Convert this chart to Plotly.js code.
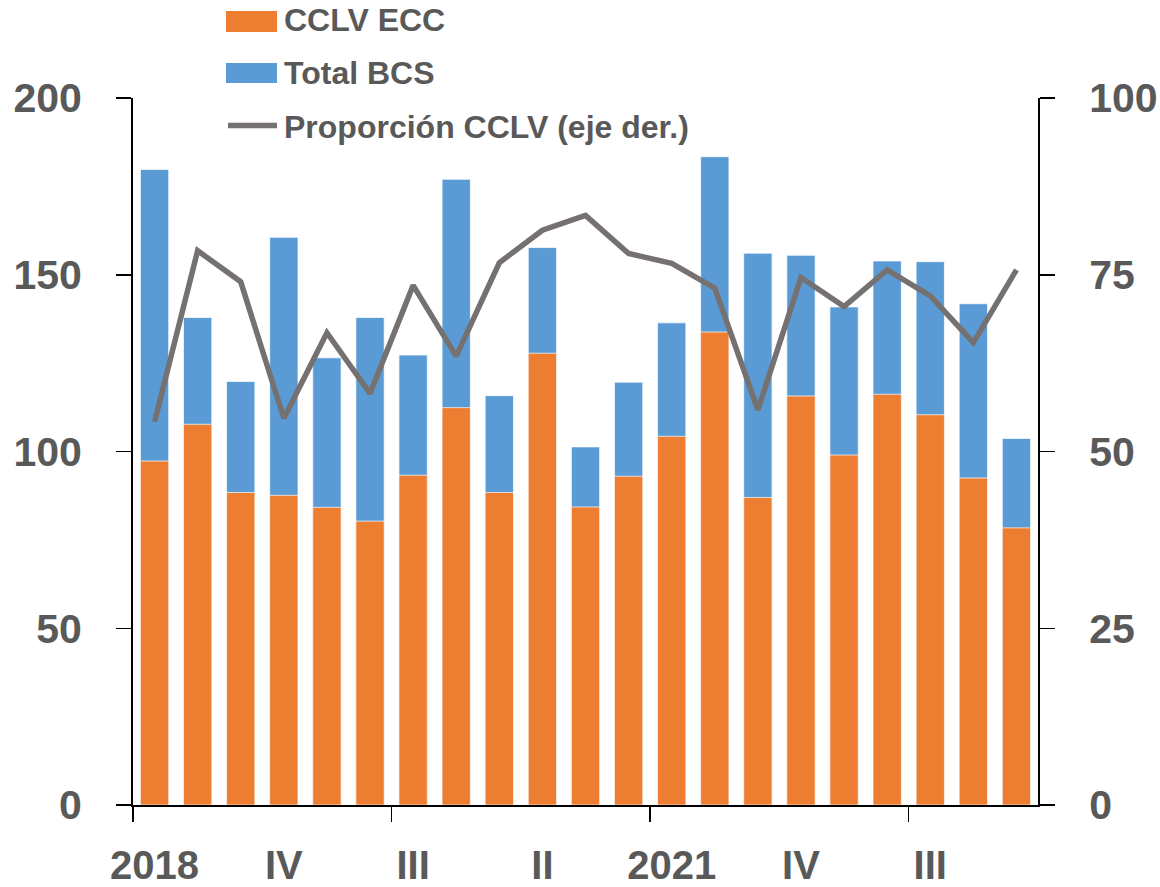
<!DOCTYPE html>
<html>
<head>
<meta charset="utf-8">
<script src="https://cdn.plot.ly/plotly-3.0.1.min.js"></script>
<style>html,body{margin:0;padding:0;background:#fff;}#chart{width:1160px;height:887px;}</style>
</head>
<body>
<div id="chart"></div>
<script>
// Quarterly data, 2018 Q1 – 2023 Q1
var quarters = ["2018 I","2018 II","2018 III","2018 IV","2019 I","2019 II","2019 III","2019 IV",
                "2020 I","2020 II","2020 III","2020 IV","2021 I","2021 II","2021 III","2021 IV",
                "2022 I","2022 II","2022 III","2022 IV","2023 I"];
var totalBCS = [179.8,137.9,119.8,160.6,126.5,137.9,127.3,177.0,115.8,157.7,101.3,119.6,136.4,183.4,156.1,155.5,140.9,153.9,153.7,141.8,103.7];
var cclvECC  = [97.3,107.7,88.4,87.6,84.2,80.3,93.3,112.4,88.4,127.8,84.3,93.0,104.3,133.8,87.0,115.7,99.0,116.2,110.4,92.5,78.4];
var proporcion = [54.2,78.4,74.0,54.7,66.8,58.2,73.5,63.5,76.7,81.3,83.4,78.0,76.6,73.1,55.9,74.6,70.5,75.7,72.0,65.4,75.7];
var tickLabelPos = [0,3,6,9,12,15,18];
var tickLabels = ["2018","IV","III","II","2021","IV","III"];
var tickMarkPos = [-0.5,5.5,11.5,17.5];
var legendNames = ["CCLV ECC","Total BCS","Proporción CCLV (eje der.)"];

var idx = quarters.map(function(_, i){ return i; });

var cOrange = "#ED7D31", cBlue = "#5B9BD5", cGray = "#767171", cText = "#595959";

var traces = [
  {type:"bar", x: idx, y: totalBCS, name: legendNames[1], marker:{color:cBlue, line:{color:"rgba(255,255,255,0.7)", width:1}}, showlegend:false, hoverinfo:"y"},
  {type:"bar", x: idx, y: cclvECC, name: legendNames[0], marker:{color:cOrange, line:{color:"rgba(255,255,255,0.7)", width:1}}, showlegend:false, hoverinfo:"y"},
  {type:"scatter", mode:"lines", x: idx, y: proporcion, xaxis:"x2", yaxis:"y2", name: legendNames[2], line:{color:cGray, width:5.5}, showlegend:false}
];

var tickFont = {family:"Liberation Sans, Arial, sans-serif", size:41, color:cText, weight:700};
var xTickFont = {family:"Liberation Sans, Arial, sans-serif", size:40, color:cText, weight:700};
var legFont = {family:"Liberation Sans Narrow, Liberation Sans, Arial, sans-serif", size:32, color:cText, weight:700};

var L = 133, R = 1038, T = 98, B = 805;
function px(x){ return (x - L) / (R - L); }
function py(y){ return (B - y) / (B - T); }

var layout = {
  width:1160, height:887,
  margin:{l:L, r:1160-R, t:T, b:887-B, pad:0},
  paper_bgcolor:"#fff", plot_bgcolor:"#fff",
  barmode:"overlay", bargap:0.343,
  showlegend:false,
  xaxis:{range:[-0.5,20.5], tickmode:"array", tickvals:tickMarkPos, ticktext:tickMarkPos.map(function(){return "";}),
         ticks:"outside", ticklen:15, tickwidth:1.5, tickcolor:"#000", showline:true, linecolor:"#000", linewidth:2,
         showgrid:false, zeroline:false, fixedrange:true},
  xaxis2:{range:[-0.5,20.5], overlaying:"x", anchor:"y2", side:"bottom", tickmode:"array", tickvals:tickLabelPos, ticktext:tickLabels,
          ticks:"", showline:false, showgrid:false, zeroline:false, tickfont:xTickFont, ticklabelstandoff:33},
  yaxis:{range:[0,200], tickmode:"array", tickvals:[0,50,100,150,200], ticks:"outside", ticklen:15, tickwidth:1.5, tickcolor:"#000",
         showline:true, linecolor:"#000", linewidth:2, showgrid:false, zeroline:false, tickfont:tickFont, ticklabelstandoff:26},
  yaxis2:{range:[0,100], overlaying:"y", side:"right", anchor:"x2", tickmode:"array", tickvals:[0,25,50,75,100], ticks:"outside", ticklen:15, tickwidth:1.5, tickcolor:"#000",
          showline:true, linecolor:"#000", linewidth:2, showgrid:false, zeroline:false, tickfont:tickFont, ticklabelstandoff:26},
  shapes:[
    {type:"rect", xref:"paper", yref:"paper", x0:px(226), x1:px(277), y0:py(32), y1:py(11), fillcolor:cOrange, line:{width:0}},
    {type:"rect", xref:"paper", yref:"paper", x0:px(226), x1:px(277), y0:py(83), y1:py(63), fillcolor:cBlue, line:{width:0}},
    {type:"line", xref:"paper", yref:"paper", x0:px(228), x1:px(277), y0:py(125.5), y1:py(125.5), line:{color:cGray, width:5.5}}
  ],
  annotations:[
    {xref:"paper", yref:"paper", x:px(282), y:py(20), xanchor:"left", yanchor:"middle", text:legendNames[0], showarrow:false, font:legFont},
    {xref:"paper", yref:"paper", x:px(282), y:py(73), xanchor:"left", yanchor:"middle", text:legendNames[1], showarrow:false, font:legFont},
    {xref:"paper", yref:"paper", x:px(282), y:py(127), xanchor:"left", yanchor:"middle", text:legendNames[2], showarrow:false, font:legFont}
  ]
};

Plotly.newPlot("chart", traces, layout, {displayModeBar:false, staticPlot:true});
</script>
</body>
</html>
